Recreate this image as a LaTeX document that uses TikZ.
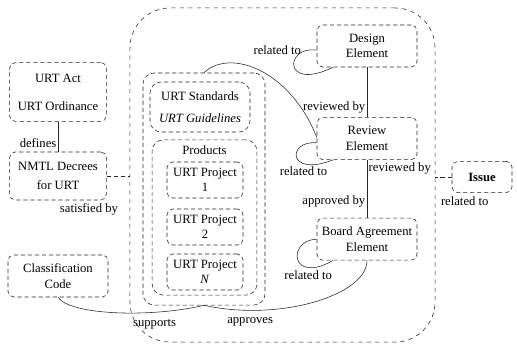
\documentclass[tikz,border=0pt]{standalone}
\usepackage{fontspec}
\setmainfont{Liberation Serif}
\usetikzlibrary{positioning, arrows.meta}

\begin{document}
\begin{tikzpicture}[
			x=0.025cm, y=-0.025cm,
			font=\fontsize{9}{11}\selectfont,
			elembox/.style={draw=black!85, densely dashed, rounded corners=4pt, rectangle, minimum width=2.5cm, minimum height=1.05cm, align=center, inner sep=2pt},
			grpbox/.style={draw=black!85, densely dashed, rounded corners=8pt, rectangle, align=center},
			link/.style={draw=black!85, thin},
			lbl/.style={inner sep=1pt}
		]
		\useasboundingbox (0,0) rectangle (517,345);
		\node[grpbox, dashed, rounded corners=1cm, minimum width=7.625cm, minimum height=8.35cm] (dept) at (282.5,175) {};

		\node[elembox, minimum width=2.42cm, minimum height=1.47cm] (act) at (58,92) {URT Act\\[9pt]URT Ordinance};
		\node[elembox, minimum width=2.42cm, minimum height=1.2cm, below=0.75cm of act] (nmtl) {NMTL Decrees\\[3pt]for URT};
		\node[elembox] (cls) at (58,276) {Classification\\Code};

		\node[elembox] (design) at (367,46) {Design\\Element};
		\node[elembox, below=1.25cm of design] (review) {Review\\Element};
		\node[elembox, below=1.45cm of review] (board) {Board Agreement\\Element};
		\node[elembox, font=\fontsize{9}{11}\selectfont\bfseries, minimum width=1.5cm, minimum height=0.78cm] (issue) at (482,177) {Issue};

		\node[grpbox, minimum width=3.05cm, minimum height=5.8cm] (urt) at (204,189) {};
		\node[grpbox, minimum width=2.5cm, minimum height=1.25cm] (std) at (200,107) {URT Standards\\[5pt]\textit{URT Guidelines}};
		\node[grpbox, minimum width=2.62cm, minimum height=3.88cm] (prod) at (204.5,217.5) {};
		\node[below=1pt of prod.north] (prodhead) {Products};
		\node[elembox, minimum width=1.9cm, minimum height=0.9cm] (p1) at (205,180) {URT Project\\1};
		\node[elembox, minimum width=1.9cm, minimum height=0.9cm] (p2) at (205,227) {URT Project\\2};
		\node[elembox, minimum width=1.9cm, minimum height=0.9cm] (pN) at (205,272) {URT Project\\\textit{N}};

		\draw[link] (act) -- node[lbl, left, pos=0.7] {defines} (nmtl);
		\draw[link, densely dashed] (nmtl.east) -- (nmtl.east -| dept.west) node[lbl, at end, below left=0.65cm and 0.25cm] {satisfied by};
		\draw[link] (cls.south) .. controls (70,315) and (150,318) .. (urt.south) node[lbl, pos=0.72, below=4pt] {supports};
		\draw[link] (board.south) .. controls (367,295) and (280,322) .. (urt.south) node[lbl, pos=0.8, below=4pt] {approves};
		\draw[link] (urt.north) .. controls (230,48) and (290,70) .. ([yshift=1pt]review.west);
		\draw[link] (design) -- node[lbl, left, pos=0.8] {reviewed by} (review);
		\draw[link] (review) -- node[lbl, right, pos=0.15] {reviewed by} node[lbl, left, pos=0.72] {approved by} (board);
		\draw[link, densely dashed] (issue.west) -- (issue.west -| dept.east) node[lbl, at end, below right=0.45cm and 0.1cm] {related to};

		\draw[link] ([yshift=-3pt]design.west) .. controls (285,45) and (282,92) .. ([xshift=-0.85cm]design.south) node[lbl, at start, left=0.35cm] {related to};
		\draw[link] ([yshift=-3pt]review.west) .. controls (287,140) and (287,178) .. ([xshift=-0.85cm]review.south) node[lbl, pos=0.7, below=1pt] {related to};
		\draw[link] (board.west) .. controls (287,240) and (290,285) .. ([xshift=-0.85cm]board.south) node[lbl, pos=0.75, below=1pt] {related to};
	\end{tikzpicture}
\end{document}
